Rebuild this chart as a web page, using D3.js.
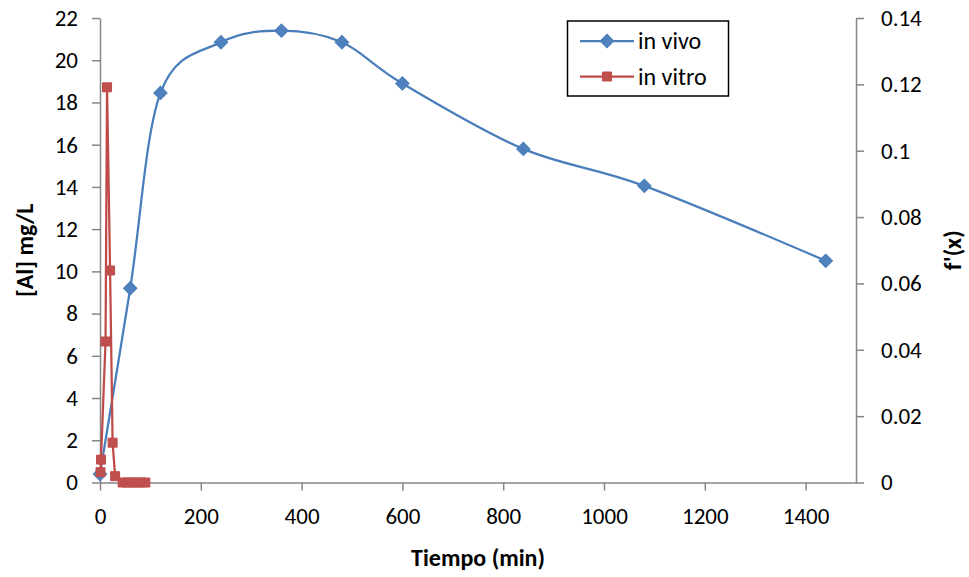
<!DOCTYPE html>
<html>
<head>
<meta charset="utf-8">
<script src="https://cdn.jsdelivr.net/npm/d3@7"></script>
<style>
  html, body { margin: 0; padding: 0; background: #fff; }
  svg { display: block; font-family: Carlito, Calibri, Lato, "Open Sans", sans-serif; }
</style>
</head>
<body>
<svg id="chart" width="969" height="577"></svg>
<script>
// In vivo aluminium concentration (left axis, mg/L)
const vivoTime = [0, 60, 120, 240, 360, 480, 600, 840, 1080, 1440];
const vivoConc = [0.4, 9.2, 18.45, 20.85, 21.4, 20.85, 18.9, 15.8, 14.05, 10.5];

// In vitro derivative f'(x) (right axis)
const vitroTime = [1, 2, 11, 14, 20, 25, 30, 45, 54, 63, 72, 81, 90];
const vitroDeriv = [0.0031, 0.0069, 0.0425, 0.1191, 0.0639, 0.0120, 0.0019, 0, 0, 0, 0, 0, 0];

const xTicks = [0, 200, 400, 600, 800, 1000, 1200, 1400];
const yLeftTicks = [0, 2, 4, 6, 8, 10, 12, 14, 16, 18, 20, 22];
const yRightTicks = [0, 0.02, 0.04, 0.06, 0.08, 0.1, 0.12, 0.14];

const seriesNames = ["in vivo", "in vitro"];
const blue = "#4A7EBB", blueMark = "#4F81BD";
const red = "#BE4B48", redMark = "#C0504D";
const axisColor = "#868686";

const svg = d3.select("#chart");
const plot = { left: 100, right: 856, top: 18, bottom: 482.5 };

const x = d3.scaleLinear().domain([0, 1500]).range([plot.left, plot.right]);
const yL = d3.scaleLinear().domain([0, 22]).range([plot.bottom, plot.top]);
const yR = d3.scaleLinear().domain([0, 0.14]).range([plot.bottom, plot.top]);

const fmtR = v => v === 0 ? "0" : String(+v.toFixed(2));

// Axes
function styleAxis(g) {
  g.select(".domain").attr("stroke", axisColor).attr("stroke-width", 1.5);
  g.selectAll(".tick line").attr("stroke", axisColor).attr("stroke-width", 1.5);
  g.selectAll(".tick text").attr("fill", "#000").style("font-size", "23px")
    .style("font-family", "Carlito, Calibri, Lato, sans-serif");
}

svg.append("g")
  .attr("transform", `translate(0,${plot.bottom})`)
  .call(d3.axisBottom(x).tickValues(xTicks).tickSize(8).tickSizeOuter(0).tickPadding(17).tickFormat(d3.format("d")))
  .call(styleAxis);

svg.append("g")
  .attr("transform", `translate(${plot.left},0)`)
  .call(d3.axisLeft(yL).tickValues(yLeftTicks).tickSize(8).tickSizeOuter(0).tickPadding(14).tickFormat(d3.format("d")))
  .call(styleAxis);

svg.append("g")
  .attr("transform", `translate(${plot.right},0)`)
  .call(d3.axisRight(yR).tickValues(yRightTicks).tickSize(8).tickSizeOuter(0).tickPadding(17).tickFormat(fmtR))
  .call(styleAxis);

// Axis titles
svg.append("text")
  .attr("x", (plot.left + plot.right) / 2).attr("y", 566)
  .attr("text-anchor", "middle")
  .style("font-size", "24px").style("font-weight", "bold")
  .text("Tiempo (min)");

svg.append("text")
  .attr("transform", `translate(33,${(plot.top + plot.bottom) / 2}) rotate(-90)`)
  .attr("text-anchor", "middle")
  .style("font-size", "24px").style("font-weight", "bold")
  .text("[Al] mg/L");

svg.append("text")
  .attr("transform", `translate(961,${(plot.top + plot.bottom) / 2}) rotate(-90)`)
  .attr("text-anchor", "middle")
  .style("font-size", "24px").style("font-weight", "bold")
  .text("f'(x)");

// In vivo series: smoothed line with diamond markers
const vivo = vivoTime.map((t, i) => [t, vivoConc[i]]);
svg.append("path")
  .datum(vivo)
  .attr("fill", "none").attr("stroke", blue).attr("stroke-width", 2.25)
  .attr("d", d3.line().x(d => x(d[0])).y(d => yL(d[1])).curve(d3.curveCatmullRom.alpha(0)));

const diamond = d3.symbol().type(d3.symbolSquare).size(90);
svg.append("g").selectAll("path")
  .data(vivo).join("path")
  .attr("d", diamond)
  .attr("transform", d => `translate(${x(d[0])},${yL(d[1])}) rotate(45)`)
  .attr("fill", blueMark).attr("stroke", blue).attr("stroke-width", 1);

// In vitro series: straight segments with square markers
const vitro = vitroTime.map((t, i) => [t, vitroDeriv[i]]);
svg.append("path")
  .datum(vitro)
  .attr("fill", "none").attr("stroke", red).attr("stroke-width", 2.25)
  .attr("d", d3.line().x(d => x(d[0])).y(d => yR(d[1])));

const square = d3.symbol().type(d3.symbolSquare).size(81);
svg.append("g").selectAll("path")
  .data(vitro).join("path")
  .attr("d", square)
  .attr("transform", d => `translate(${x(d[0])},${yR(d[1])})`)
  .attr("fill", redMark).attr("stroke", red).attr("stroke-width", 1);

// Legend
const lg = svg.append("g");
lg.append("rect")
  .attr("x", 567.5).attr("y", 21).attr("width", 161).attr("height", 75)
  .attr("fill", "#fff").attr("stroke", "#000").attr("stroke-width", 1.5);

const legendRows = [
  { name: seriesNames[0], y: 41, color: blue, fill: blueMark, sym: diamond, rot: 45 },
  { name: seriesNames[1], y: 76.5, color: red, fill: redMark, sym: square, rot: 0 }
];
legendRows.forEach(r => {
  lg.append("line").attr("x1", 580).attr("x2", 634).attr("y1", r.y).attr("y2", r.y)
    .attr("stroke", r.color).attr("stroke-width", 2.25);
  lg.append("path").attr("d", r.sym)
    .attr("transform", `translate(607,${r.y}) rotate(${r.rot})`)
    .attr("fill", r.fill).attr("stroke", r.color).attr("stroke-width", 1);
  lg.append("text").attr("x", 638).attr("y", r.y + 8)
    .style("font-size", "24px").text(r.name);
});
</script>
</body>
</html>
